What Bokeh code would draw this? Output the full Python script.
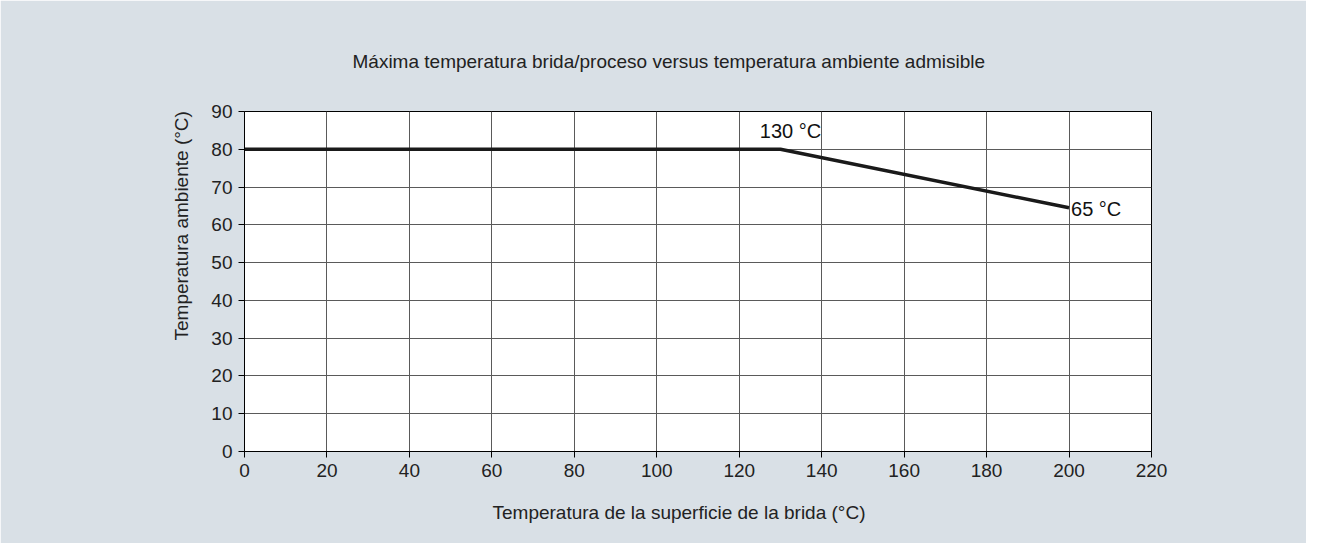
from bokeh.plotting import figure
from bokeh.models import Range1d, FixedTicker, Title, ColumnDataSource
from bokeh.embed import file_html
from bokeh.resources import INLINE
from bokeh.core.properties import value

# data
flange_temp = [0, 130, 200]
ambient_temp = [80, 80, 64.5]
x_ticks = [0, 20, 40, 60, 80, 100, 120, 140, 160, 180, 200, 220]
y_ticks = [0, 10, 20, 30, 40, 50, 60, 70, 80, 90]
ann_x = [130, 200]
ann_y = [80, 64.5]
ann_text = ["130 °C", "65 °C"]
title_text = "Máxima temperatura brida/proceso versus temperatura ambiente admisible"
x_label = "Temperatura de la superficie de la brida (°C)"
y_label = "Temperatura ambiente (°C)"

FONT = "Liberation Sans"
BG = "#d9e0e6"
TXT = "#222222"

p = figure(width=1306, height=543, output_backend="svg", toolbar_location=None,
           x_range=Range1d(0, 220), y_range=Range1d(0, 90),
           min_border_left=244, min_border_right=155, min_border_top=111, min_border_bottom=92)
p.background_fill_color = "white"
p.border_fill_color = BG
p.outline_line_color = "black"
p.outline_line_width = 1

t = Title(text=title_text, align="left", offset=108, text_font=FONT, text_font_size="19px",
          text_font_style="normal", text_color=TXT, standoff=80)
p.add_layout(t, "above")

xt = Title(text=x_label, align="left", offset=248, text_font=FONT, text_font_size="19px",
           text_font_style="normal", text_color=TXT, standoff=41)
p.add_layout(xt, "below")

yt = Title(text=y_label, align="left", offset=111, text_font=FONT, text_font_size="19px",
           text_font_style="normal", text_color=TXT, standoff=34)
p.add_layout(yt, "left")

for ax in (p.xaxis[0], p.yaxis[0]):
    ax.major_label_text_font = FONT
    ax.major_label_text_font_size = "19px"
    ax.major_label_text_color = TXT
    ax.axis_line_color = "black"
    ax.major_tick_line_color = "black"
    ax.major_tick_in = 0
    ax.major_tick_out = 6
    ax.minor_tick_line_color = None

p.xaxis.ticker = FixedTicker(ticks=x_ticks)
p.yaxis.ticker = FixedTicker(ticks=y_ticks)
p.xaxis.major_label_standoff = 6
p.yaxis.major_label_standoff = 6

p.xgrid.ticker = FixedTicker(ticks=x_ticks)
p.ygrid.ticker = FixedTicker(ticks=y_ticks)
p.grid.grid_line_color = "#5a5a5a"
p.grid.grid_line_width = 1
p.grid.grid_line_alpha = 1

p.line(flange_temp, ambient_temp, line_color="#1a1a1a", line_width=3.5)

src = ColumnDataSource(dict(x=ann_x, y=ann_y, t=ann_text,
                            xo=[10, 2], yo=[-7, 1],
                            al=["center", "left"], bl=["bottom", "middle"]))
p.text(x="x", y="y", text="t", x_offset="xo", y_offset="yo", text_align="al",
       text_baseline="bl", source=src, text_font=value(FONT),
       text_font_size="20px", text_color="#111111")

open("out.html", "w").write(file_html(p, INLINE))
